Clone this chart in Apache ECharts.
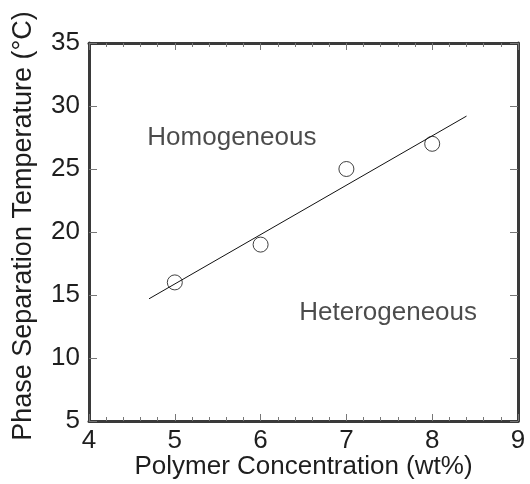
<!DOCTYPE html>
<html>
<head>
<meta charset="utf-8">
<script src="https://cdn.jsdelivr.net/npm/echarts@6/dist/echarts.min.js"></script>
<style>
  html, body { margin: 0; padding: 0; background: #fff; }
  #chart { width: 530px; height: 484px; }
</style>
</head>
<body>
<div id="chart"></div>
<script>
// measured points
var concentration = [5, 6, 7, 8];
var temperature = [16, 19, 25, 27];
// fitted line end points
var fitX = [4.7, 8.4];
var fitY = [14.7, 29.2];
// region labels
var regionNames = ["Homogeneous", "Heterogeneous"];
var regionX = [4.68, 6.45];
var regionY = [27.5, 13.6];

var FONT = "Liberation Sans, Arial, Helvetica, sans-serif";
var FONT_SIZE = 26;
var AXIS_COLOR = "#3a3a3a";
var TEXT_COLOR = "#1e1e1e";

var chart = echarts.init(document.getElementById("chart"));

var baseX = {
  type: "value",
  min: 4,
  max: 9,
  interval: 1,
  axisLine: { show: true, onZero: false, lineStyle: { color: AXIS_COLOR, width: 3 } },
  axisTick: { show: true, inside: true, length: 7, lineStyle: { color: "#777", width: 1 } },
  minorTick: { show: true, splitNumber: 5, length: 4, lineStyle: { color: "#777", width: 1 } },
  splitLine: { show: false },
  minorSplitLine: { show: false },
};
var baseY = {
  type: "value",
  min: 5,
  max: 35,
  interval: 5,
  axisLine: { show: true, onZero: false, lineStyle: { color: AXIS_COLOR, width: 3 } },
  axisTick: { show: true, inside: true, length: 8, lineStyle: { color: "#777", width: 1 } },
  splitLine: { show: false },
};

chart.setOption({
  backgroundColor: "#fff",
  animation: false,
  grid: { left: 89, right: 12, top: 43, bottom: 63, containLabel: false, outerBoundsMode: "none" },
  xAxis: [
    Object.assign({}, baseX, {
      position: "bottom",
      name: "Polymer Concentration (wt%)",
      nameLocation: "middle",
      nameGap: 33,
      nameMoveOverlap: false,
      nameTextStyle: { fontFamily: FONT, fontSize: FONT_SIZE, color: TEXT_COLOR },
      axisLabel: { margin: 7, fontFamily: FONT, fontSize: FONT_SIZE, color: TEXT_COLOR },
    }),
    Object.assign({}, baseX, { position: "top", axisLabel: { show: false } }),
  ],
  yAxis: [
    Object.assign({}, baseY, {
      position: "left",
      name: "Phase Separation Temperature (°C)",
      nameLocation: "middle",
      nameGap: 52,
      nameMoveOverlap: false,
      nameTextStyle: { fontFamily: FONT, fontSize: 27, color: TEXT_COLOR, padding: [0, 0, 0, 12] },
      axisLabel: { margin: 9, fontFamily: FONT, fontSize: FONT_SIZE, color: TEXT_COLOR },
    }),
    Object.assign({}, baseY, { position: "right", axisLabel: { show: false } }),
  ],
  series: [
    {
      type: "line",
      data: fitX.map(function (x, i) { return [x, fitY[i]]; }),
      symbol: "none",
      lineStyle: { color: "#111", width: 1 },
      z: 2,
    },
    {
      type: "scatter",
      data: concentration.map(function (x, i) { return [x, temperature[i]]; }),
      symbol: "circle",
      symbolSize: 15,
      itemStyle: { color: "rgba(255,255,255,0)", borderColor: "#111", borderWidth: 1 },
      z: 3,
    },
    {
      type: "scatter",
      data: regionNames.map(function (n, i) { return [regionX[i], regionY[i], n]; }),
      symbolSize: 0,
      label: {
        show: true,
        position: "right",
        distance: 0,
        formatter: function (p) { return p.data[2]; },
        fontFamily: FONT,
        fontSize: FONT_SIZE,
        color: TEXT_COLOR,
      },
      silent: true,
    },
  ],
});
</script>
</body>
</html>
